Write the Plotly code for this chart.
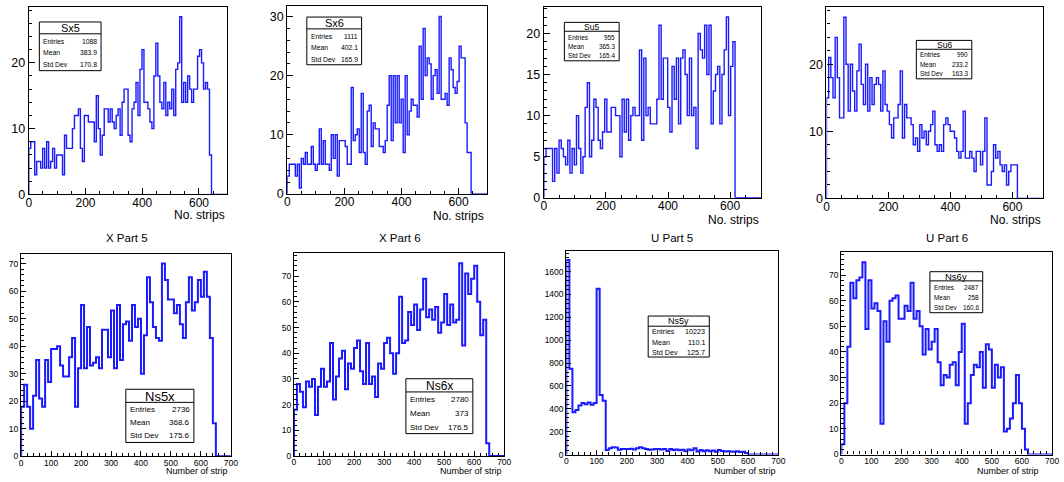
import numpy as np
import plotly.graph_objects as go

W, H = 1064, 482
FONT = "Liberation Sans"

# ---------------- data (bin contents) ----------------
# top row: bin width 7, starting at 0
sx5 = [7, 8, 8, 3, 5, 5, 4, 7, 4, 8, 4, 5, 7, 4, 6, 6, 6, 3, 9, 7,
       7, 7, 10, 12, 12, 13, 7, 5, 12, 12, 11, 11, 11, 8, 15, 10, 6, 9, 13, 13,
       11, 13, 11, 10, 12, 13, 9, 14, 16, 16, 9, 8, 13, 14, 17, 12, 19, 22, 14, 14,
       13, 11, 10, 18, 23, 18, 14, 13, 17, 12, 14, 13, 16, 12, 19, 20, 27, 14, 17, 14,
       18, 16, 14, 16, 16, 21, 22, 20, 16, 17, 16, 6]
sx6 = [3, 5, 5, 5, 3, 5, 1, 6, 5, 7, 5, 5, 8, 5, 4, 5, 11, 5, 9, 5,
       5, 4, 10, 6, 10, 3, 9, 9, 9, 8, 5, 5, 18, 9, 10, 11, 7, 17, 7, 5,
       14, 15, 8, 12, 11, 11, 8, 8, 7, 9, 15, 20, 9, 20, 12, 20, 12, 16, 7, 20,
       10, 14, 16, 15, 15, 13, 25, 16, 28, 20, 23, 22, 16, 20, 21, 17, 30, 16, 16, 17,
       15, 23, 21, 18, 17, 19, 25, 23, 23, 12, 7, 7]
su5 = [5, 6, 6, 6, 2, 6, 3, 7, 6, 5, 4, 7, 3, 6, 4, 10, 6, 3, 5, 11,
       14, 5, 7, 12, 11, 7, 6, 8, 12, 8, 8, 11, 11, 10, 10, 5, 12, 8, 12, 7,
       10, 11, 10, 10, 18, 7, 17, 10, 11, 9, 9, 9, 12, 21, 12, 17, 17, 11, 8, 16,
       12, 17, 9, 17, 18, 15, 10, 17, 10, 11, 6, 20, 18, 17, 21, 15, 21, 9, 13, 15,
       16, 9, 15, 18, 22, 10, 16, 19]
su6 = [15, 21, 18, 15, 24, 18, 12, 12, 27, 20, 13, 20, 16, 13, 19, 23, 17, 14, 20, 13,
       18, 14, 17, 18, 17, 13, 19, 14, 13, 11, 9, 12, 12, 14, 19, 9, 14, 12, 12, 11,
       8, 9, 7, 11, 9, 10, 8, 10, 11, 13, 8, 7, 8, 7, 11, 12, 11, 10, 10, 9,
       7, 6, 7, 13, 6, 6, 7, 6, 4, 7, 7, 5, 7, 12, 2, 2, 4, 8, 6, 7,
       5, 4, 5, 2, 4, 5, 5, 5]
# bottom row: bin width 10, starting at 0
ns5x = [18, 26, 18, 10, 22, 35, 21, 18, 35, 27, 39, 39, 40, 33, 29, 29, 36, 43, 18, 32,
        55, 32, 47, 33, 34, 36, 32, 46, 46, 36, 53, 32, 55, 35, 48, 49, 42, 55, 47, 50,
        30, 44, 65, 56, 47, 43, 42, 70, 64, 57, 57, 52, 55, 48, 43, 56, 65, 53, 56, 64,
        58, 67, 58, 43, 12]
ns6x = [18, 28, 25, 19, 29, 27, 30, 16, 27, 34, 27, 29, 44, 22, 31, 38, 41, 26, 36, 34,
        42, 45, 33, 28, 44, 28, 31, 23, 36, 34, 44, 46, 40, 32, 40, 62, 44, 45, 56, 51,
        59, 49, 57, 69, 54, 57, 53, 58, 48, 52, 63, 51, 59, 52, 53, 75, 43, 71, 63, 69,
        74, 60, 47, 53, 5]
ns5y = [1700, 750, 370, 390, 430, 450, 440, 455, 435, 450, 1450, 520, 470,
        40, 55, 65, 62, 42, 50, 50, 48, 52, 45, 55, 65, 55, 50, 42, 45, 48, 50,
        45, 50, 32, 48, 40, 45, 38, 42, 30, 45, 38, 55, 28, 40, 30, 38, 30, 35,
        25, 40, 32, 28, 30, 28, 25, 30, 22, 25, 15]
ns6y = [4, 20, 42, 67, 61, 68, 69, 75, 49, 68, 57, 59, 56, 12, 52, 44, 60, 61, 62, 53,
        53, 58, 56, 67, 53, 56, 50, 39, 49, 41, 44, 49, 36, 27, 31, 30, 35, 36, 27, 40,
        51, 12, 20, 31, 35, 34, 40, 26, 43, 41, 26, 35, 30, 34, 9, 10, 14, 20, 31, 20,
        10, 2]

names = ["Sx5", "Sx6", "Su5", "Su6", "Ns5x", "Ns6x", "Ns5y", "Ns6y"]
titles = ["", "", "", "", "X Part 5", "X Part 6", "U Part 5", "U Part 6"]
entries = ["1088", "1111", "955", "990", "2736", "2780", "10223", "2487"]
means = ["383.9", "402.1", "365.3", "233.2", "368.6", "373", "110.1", "258"]
stds = ["170.8", "165.9", "165.4", "163.3", "175.6", "176.5", "125.7", "160.6"]
xtitles = ["No. strips"] * 4 + ["Number of strip"] * 4

# ---------------- layout (pixels) ----------------
P = [
    dict(c=sx5, w=7, xd=(26, 226.5), yd=(7, 197.3), ymax=28.5, dy=10, my=2,
         box=(36.7, 22.3, 99, 71.7), sep=34.3, ty=28.5, rows=(41.7, 53.3, 65.7), tf=11, rf=6.8,
         xt=(226.5, 218)),
    dict(c=sx6, w=7, xd=(287, 488.7), yd=(6, 196.7), ymax=31.8, dy=10, my=2,
         box=(306.7, 17.3, 362, 65.7), sep=29.3, ty=23.5, rows=(36.7, 48.7, 60.3), tf=11, rf=6.8,
         xt=(487.7, 219.5)),
    dict(c=su5, w=7, xd=(546, 765.3), yd=(7.3, 200.7), ymax=23.2, dy=5, my=1,
         box=(566.7, 22.7, 622, 61.7), sep=31.7, ty=27.3, rows=(37.7, 47.3, 56.7), tf=8.5, rf=6.4,
         xt=(764.7, 223)),
    dict(c=su6, w=7, xd=(831.3, 1050.3), yd=(7.3, 201.3), ymax=28.5, dy=10, my=2,
         box=(922, 41, 978, 80), sep=50, ty=45.7, rows=(55, 65.3, 75), tf=8.5, rf=6.4,
         xt=(1050, 223.5)),
    dict(c=ns5x, w=10, xd=(18.3, 230), yd=(257.7, 463), ymax=73.5, dy=10, my=2,
         box=(124, 395, 192.7, 449), sep=408.3, ty=402, rows=(415.7, 429, 441.7), tf=13, rf=8,
         xt=(229.3, 477.5), tt=(125, 241)),
    dict(c=ns6x, w=10, xd=(293.7, 506), yd=(256.7, 462.8), ymax=79, dy=10, my=2,
         box=(406.7, 384.3, 474.3, 440), sep=397.7, ty=391.3, rows=(405.7, 420, 433.3), tf=12, rf=8,
         xt=(506, 477.5), tt=(401, 241)),
    dict(c=ns5y, w=10, xd=(568.7, 782.7), yd=(254.3, 461.3), ymax=1783, dy=200, my=40,
         box=(651.3, 320.7, 713, 362.3), sep=331, ty=326, rows=(336.7, 347.3, 357.3), tf=9, rf=7.2,
         xt=(782, 477.5), tt=(675, 241)),
    dict(c=ns6y, w=10, xd=(846.3, 1059), yd=(255.7, 461.2), ymax=79, dy=10, my=2,
         box=(935.7, 275.7, 989, 317.3), sep=285, ty=280.5, rows=(291.7, 302, 312.3), tf=9.5, rf=6.4,
         xt=(1048, 477.5), tt=(953, 241)),
]


def fx(x):
    return x / W


def fy(y):
    return 1 - y / H


fig = go.Figure()
shapes = []
annotations = []

for i, p in enumerate(P):
    top = i < 4
    k = "" if i == 0 else str(i + 1)
    counts = np.asarray(p["c"], float)
    edges = np.arange(len(counts) + 1) * p["w"]
    xs = np.concatenate([[0], edges[:-1], [edges[-1], 700]])
    ys = np.concatenate([[0], counts, [0, 0]])
    fig.add_trace(go.Scatter(
        x=xs, y=ys, mode="lines", line=dict(color="#1a1aff", width=1.4 if top else 2.0, shape="hv"),
        xaxis="x" + k, yaxis="y" + k, showlegend=False, hoverinfo="skip"))

    tfs = 12 if top else 8.5
    fig.layout["xaxis" + k] = dict(
        domain=[fx(p["xd"][0]), fx(p["xd"][1])], anchor="y" + k,
        range=[0, 700], dtick=200 if top else 100, tick0=0,
        ticks="inside", ticklen=6 if top else 5, tickcolor="black", tickwidth=1,
        minor=dict(ticks="inside", dtick=50 if top else 20, ticklen=3, tickcolor="black"),
        showline=True, mirror=True, linecolor="black", linewidth=1.2,
        showgrid=False, zeroline=False, ticklabelstandoff=-3 if top else -2,
        tickfont=dict(family=FONT, size=tfs, color="black"))
    fig.layout["yaxis" + k] = dict(
        domain=[fy(p["yd"][1]), fy(p["yd"][0])], anchor="x" + k,
        range=[0, p["ymax"]], dtick=p["dy"], tick0=0,
        ticks="inside", ticklen=6 if top else 5, tickcolor="black", tickwidth=1,
        minor=dict(ticks="inside", dtick=p["my"], ticklen=3, tickcolor="black"),
        showline=True, mirror=True, linecolor="black", linewidth=1.2,
        showgrid=False, zeroline=False,
        tickfont=dict(family=FONT, size=12.5 if top else 8.5, color="black"))

    # stats box
    x0, y0, x1, y1 = p["box"]
    shapes.append(dict(type="rect", xref="paper", yref="paper",
                       x0=fx(x0), x1=fx(x1), y0=fy(y1), y1=fy(y0),
                       line=dict(color="black", width=1), fillcolor="white", layer="above"))
    shapes.append(dict(type="line", xref="paper", yref="paper",
                       x0=fx(x0), x1=fx(x1), y0=fy(p["sep"]), y1=fy(p["sep"]),
                       line=dict(color="black", width=1), layer="above"))
    annotations.append(dict(text=names[i], x=fx((x0 + x1) / 2), y=fy(p["ty"]), xref="paper", yref="paper",
                            xanchor="center", yanchor="middle", showarrow=False,
                            font=dict(family=FONT, size=p["tf"], color="black")))
    for lab, val, yy in zip(["Entries", "Mean", "Std Dev"], [entries[i], means[i], stds[i]], p["rows"]):
        annotations.append(dict(text=lab, x=fx(x0 + 2), y=fy(yy), xref="paper", yref="paper",
                                xanchor="left", yanchor="middle", showarrow=False,
                                font=dict(family=FONT, size=p["rf"], color="black")))
        annotations.append(dict(text=val, x=fx(x1 - 2), y=fy(yy), xref="paper", yref="paper",
                                xanchor="right", yanchor="middle", showarrow=False,
                                font=dict(family=FONT, size=p["rf"], color="black")))
    # x title
    annotations.append(dict(text=xtitles[i], x=fx(p["xt"][0]), y=fy(p["xt"][1]), xref="paper", yref="paper",
                            xanchor="right", yanchor="middle", showarrow=False,
                            font=dict(family=FONT, size=12 if top else 9, color="black")))
    if not top:
        annotations.append(dict(text=titles[i], x=fx(p["tt"][0]), y=fy(p["tt"][1]), xref="paper", yref="paper",
                                xanchor="center", yanchor="middle", showarrow=False,
                                font=dict(family=FONT, size=11.5, color="black")))

fig.update_layout(width=W, height=H, margin=dict(l=0, r=0, t=0, b=0),
                  paper_bgcolor="white", plot_bgcolor="white",
                  shapes=shapes, annotations=annotations)
fig.write_html("out.html")
